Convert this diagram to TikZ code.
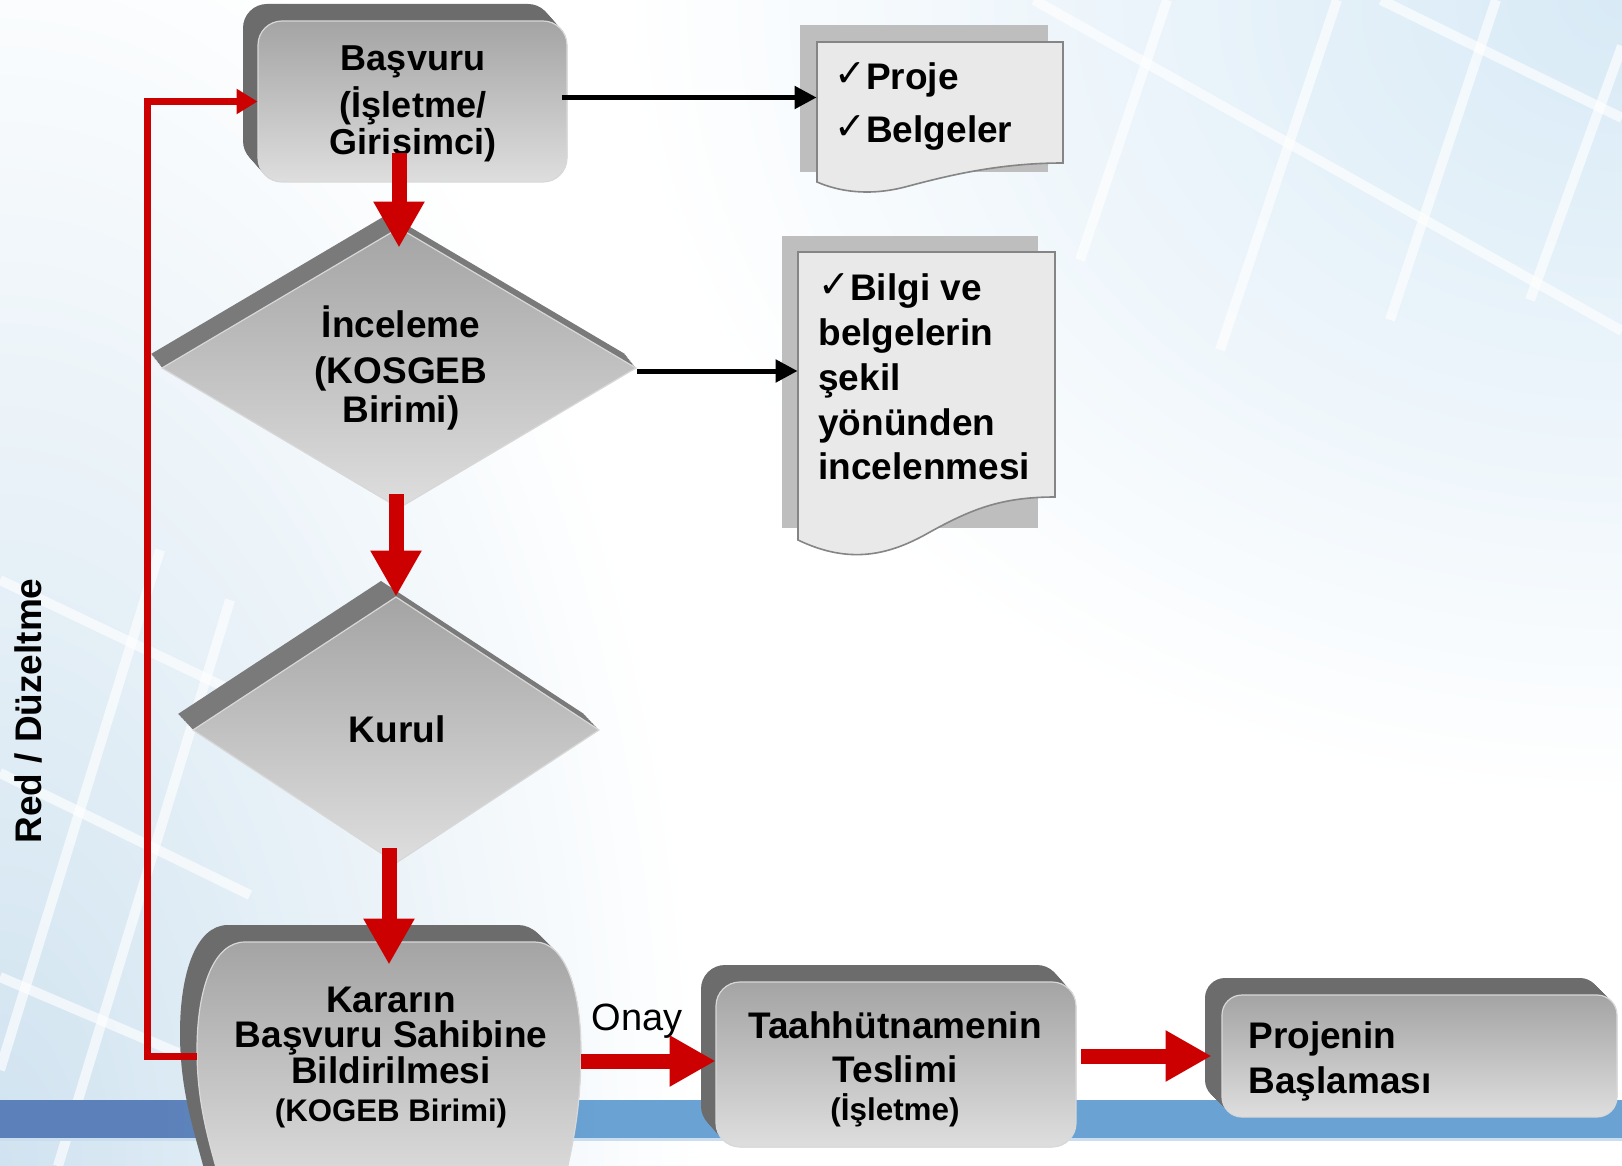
\documentclass[tikz,border=0pt]{standalone}
\usepackage{fontspec}
\setmainfont{Liberation Sans}
\newfontfamily\symfam{DejaVu Sans}
\usetikzlibrary{arrows.meta,calc,fit}
\definecolor{redarr}{HTML}{CC0000}
\definecolor{extrcol}{HTML}{6C6C6C}
\definecolor{extrdia}{HTML}{7A7A7A}
\definecolor{facetop}{HTML}{A4A4A4}
\definecolor{facebot}{HTML}{DEDEDE}
\definecolor{faceedge}{HTML}{D8D8D8}
\definecolor{docback}{HTML}{BEBEBE}
\definecolor{docfront}{HTML}{E9E9E9}
\definecolor{docedge}{HTML}{858585}
\definecolor{bandL}{HTML}{5C80B9}
\definecolor{bandR}{HTML}{69A2D3}
\definecolor{tintA}{HTML}{D8EAF6}
\definecolor{tintB}{HTML}{D0E3F0}
\newcommand\ChkMk{\smash{\raisebox{1.5pt}{\symfam\fontsize{19}{19}\selectfont ✓}}}
\begin{document}
\begin{tikzpicture}[x=0.5pt,y=-0.5pt,
  face/.style={top color=facetop, bottom color=facebot, draw=faceedge, line width=0.6pt},
  docb/.style={fill=docback},
  docf/.style={fill=docfront, draw=docedge, line width=0.8pt},
  stripe/.style={white, line width=5pt, opacity=0.65},
  lbl/.style={align=center, inner sep=0pt, text=black},
  hold/.style={inner sep=0pt, draw=none},
  redarrow/.style={draw=redarr, line width=7.5pt, -{Triangle[width=24pt,length=23pt]}},
  blackarrow/.style={draw=black, line width=2.5pt, -{Triangle[width=11pt,length=11pt]}},
  fbarrow/.style={draw=redarr, line width=3.5pt, -{Triangle[width=12pt,length=10.5pt]}}]
\useasboundingbox (0,0) rectangle (1622,1166);
\clip (0,0) rectangle (1622,1166);
% background
\fill[white] (0,0) rectangle (1622,1166);
\shade[inner color=tintB, outer color=white] (0,1166) ellipse (700 and 1300);
\shade[inner color=tintA, outer color=white] (1622,0) ellipse (1000 and 800);
\draw[stripe] (1034,0) -- (1622,331);
\draw[stripe] (1381,0) -- (1622,118);
\draw[stripe] (1167,0) -- (1080,260);
\draw[stripe] (1337,0) -- (1220,350);
\draw[stripe] (1496,0) -- (1390,320);
\draw[stripe] (1622,46) -- (1530,300);
\draw[stripe] (0,580) -- (300,723);
\draw[stripe] (0,977) -- (300,1105);
\draw[stripe] (0,773) -- (250,895);
\draw[stripe] (0,1070) -- (160,550);
\draw[stripe] (58,1166) -- (230,600);
% blue band
\fill[bandL] (0,1100) rectangle (150,1138);
\shade[left color=bandL, right color=bandR] (150,1100) rectangle (600,1138);
\fill[bandR] (600,1100) rectangle (1622,1138);
\fill[white!65!bandR] (0,1138) rectangle (1622,1141);

% placeholders for the shapes
\node[hold, fit={(258,21) (567,182)}] (basvuru) {};
\node[hold, fit={(162,228) (636,508)}] (inceleme) {};
\node[hold, fit={(193,597) (599,863)}] (kurul) {};
\node[hold, fit={(197,942) (581,1166)}] (kararin) {};
\node[hold, fit={(716,982) (1076,1147)}] (taahhut) {};
\node[hold, fit={(1222,995) (1617,1117)}] (projenin) {};
\node[hold, fit={(817,42) (1063,182)}] (doc1) {};
\node[hold, fit={(798,252) (1055,558)}] (doc2) {};

% Basvuru box
\foreach \t in {0,...,10}
  \fill[extrcol, rounded corners=12pt, shift={(-1.5*\t,-1.7*\t)}] (258,21) rectangle (567,182);
\shade[face, rounded corners=12pt] (258,21) rectangle (567,182);
% Inceleme diamond
\foreach \t in {0,...,10}
  \fill[extrdia, shift={(-1.1*\t,-1.4*\t)}] (399,228) -- (636,368) -- (399,508) -- (162,368) -- cycle;
\shade[face] (399,228) -- (636,368) -- (399,508) -- (162,368) -- cycle;
% Kurul diamond
\foreach \t in {0,...,10}
  \fill[extrdia, shift={(-1.5*\t,-1.6*\t)}] (396,597) -- (599,730) -- (396,863) -- (193,730) -- cycle;
\shade[face] (396,597) -- (599,730) -- (396,863) -- (193,730) -- cycle;
% Kararin
\foreach \t in {0,...,10}
  \fill[extrcol, shift={(-1.7*\t,-1.7*\t)}] (245,942) -- (535,942) .. controls (565,942) and (581,990) .. (581,1050) .. controls (581,1110) and (572,1150) .. (562,1190) -- (222,1190) .. controls (212,1150) and (197,1110) .. (197,1050) .. controls (197,990) and (213,942) .. (245,942) -- cycle;
\shade[face] (245,942) -- (535,942) .. controls (565,942) and (581,990) .. (581,1050) .. controls (581,1110) and (572,1150) .. (562,1190) -- (222,1190) .. controls (212,1150) and (197,1110) .. (197,1050) .. controls (197,990) and (213,942) .. (245,942) -- cycle;
% Taahhut box
\foreach \t in {0,...,10}
  \fill[extrcol, rounded corners=12pt, shift={(-1.5*\t,-1.7*\t)}] (716,982) rectangle (1076,1147);
\shade[face, rounded corners=12pt] (716,982) rectangle (1076,1147);
% Projenin box
\foreach \t in {0,...,10}
  \fill[extrcol, rounded corners=10pt, shift={(-1.7*\t,-1.7*\t)}] (1222,995) rectangle (1617,1117);
\shade[face, rounded corners=10pt] (1222,995) rectangle (1617,1117);
% documents
\fill[docb] (800,25) rectangle (1048,172);
\filldraw[docf] (817,42) -- (1063,42) -- (1063,163) .. controls (1000,163) and (950,175) .. (905,187) .. controls (870,196) and (840,192) .. (817,182) -- cycle;
\fill[docb] (782,236) rectangle (1038,528);
\filldraw[docf] (798,252) -- (1055,252) -- (1055,497) .. controls (1000,497) and (970,510) .. (930,532) .. controls (890,555) and (850,565) .. (798,540) -- cycle;

% texts
\node[lbl, font={\bfseries\fontsize{18}{18.5}\selectfont\lineskiplimit=-50pt}] (basvuru-txt) at (413,103.5) {Başvuru\\[5pt](İşletme/\\Girişimci)};
\node[lbl, font={\bfseries\fontsize{18.5}{19.5}\selectfont\lineskiplimit=-50pt}] (inceleme-txt) at (401,367.5) {İnceleme\\[3.5pt](KOSGEB\\Birimi)};
\node[lbl, font={\bfseries\fontsize{18.5}{18.5}\selectfont}] (kurul-txt) at (397,729) {Kurul};
\node[lbl, font={\bfseries\fontsize{18.5}{18}\selectfont\lineskiplimit=-50pt}] (kararin-txt) at (391,1057) {Kararın\\Başvuru Sahibine\\Bildirilmesi\\[0.5pt]{\fontsize{15.6}{18}\selectfont(KOGEB Birimi)}};
\node[lbl, font={\bfseries\fontsize{18.5}{19}\selectfont\lineskiplimit=-50pt}] (taahhut-txt) at (895,1069) {Taahhütnamenin\\[3pt]Teslimi\\{\fontsize{15.7}{19}\selectfont(İşletme)}};
\node[lbl, align=left, anchor=west, font={\bfseries\fontsize{18.5}{22.5}\selectfont\lineskiplimit=-50pt}] (projenin-txt) at (1248,1061) {Projenin\\Başlaması};
\node[lbl, align=left, anchor=west, font={\bfseries\fontsize{18.5}{26.5}\selectfont\lineskiplimit=-50pt}] (doc1-txt) at (834,107) {\ChkMk Proje\\\ChkMk Belgeler};
\node[lbl, align=left, anchor=west, font={\bfseries\fontsize{18.5}{22.4}\selectfont\lineskiplimit=-50pt}] (doc2-txt) at (818,377) {\ChkMk Bilgi ve\\belgelerin\\şekil\\yönünden\\incelenmesi};
\node[lbl, rotate=90, font={\bfseries\fontsize{18.5}{18.5}\selectfont}] (red-txt) at (28.6,711) {Red / Düzeltme};
\node[lbl, font={\fontsize{19}{19}\selectfont}] (onay) at (637,1021) {Onay};

% connectors
\draw[blackarrow] ($(basvuru.east)+(-5,-4)$) coordinate (b1) -- (b1 -| doc1.west);
\draw[blackarrow] ($(inceleme.east)+(1,3)$) coordinate (b2) -- (b2 -| doc2.west);
\draw[fbarrow] ($(kararin.west)+(0,2)$) -| ($(basvuru.west)+(-110,0)$) -- (basvuru.west);
\draw[redarrow] ($(basvuru.south -| inceleme.north)+(0,-29)$) -- ($(inceleme.north)+(0,20)$);
\draw[redarrow] ($(inceleme.south -| kurul.north)+(0,-14)$) -- (kurul.north);
\draw[redarrow] ($(kurul.south -| kararin.north)+(0,-15)$) -- ($(kararin.north)+(0,23)$);
\draw[redarrow] ($(kararin.east)+(0,7)$) coordinate (a4) -- (a4 -| taahhut.west);
\draw[redarrow] ($(projenin.west -| taahhut.east)+(5,0)$) -- ($(projenin.west)+(-10,0)$);
\end{tikzpicture}
\end{document}
